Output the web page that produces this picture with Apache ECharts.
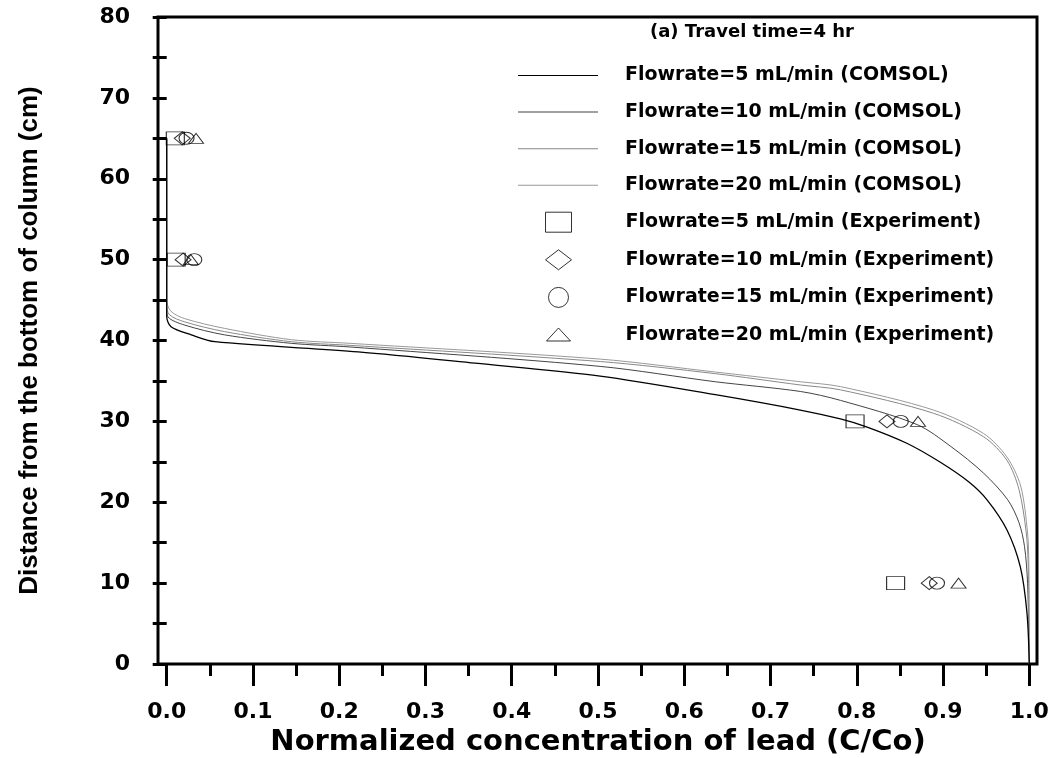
<!DOCTYPE html>
<html>
<head>
<meta charset="utf-8">
<title>Lead concentration profile</title>
<script src="https://cdn.jsdelivr.net/npm/echarts@6/dist/echarts.min.js"></script>
<style>
  html, body { margin: 0; padding: 0; background: #fff; }
  #chart { width: 1056px; height: 758px; }
</style>
</head>
<body>
<div id="chart"></div>
<script>
  // tick labels
  const xTickLabels = ['0.0', '0.1', '0.2', '0.3', '0.4', '0.5', '0.6', '0.7', '0.8', '0.9', '1.0']
  const yTickLabels = ['0', '10', '20', '30', '40', '50', '60', '70', '80']

  // COMSOL curves: concentration (C/Co) and distance (cm)
  const comsol5C = [0, 0, 0.005, 0.0285, 0.056, 0.222, 0.3575, 0.5025, 0.636, 0.7345, 0.781, 0.812, 0.858, 0.896, 0.93, 0.951, 0.974, 0.9896, 0.9973, 1.0]
  const comsol5D = [65, 43, 41.7, 40.7, 39.85, 38.6, 37.2, 35.6, 33.3, 31.4, 30.3, 29.3, 27.3, 25.0, 22.5, 20.3, 16.6, 12.0, 6.3, 0]

  const comsol10C = [0, 0, 0.0015, 0.021, 0.067, 0.1445, 0.2126, 0.5025, 0.636, 0.7345, 0.781, 0.87, 0.909, 0.947, 0.975, 0.988, 0.9945, 0.998, 1.0]
  const comsol10D = [65, 44, 42.9, 41.9, 40.7, 39.65, 39.2, 36.8, 34.9, 33.7, 32.6, 29.6, 26.9, 23.6, 20.3, 17.5, 14.5, 10, 0]

  const comsol15C = [0, 0, 0.003, 0.021, 0.067, 0.1445, 0.2126, 0.5025, 0.636, 0.7345, 0.781, 0.889, 0.947, 0.974, 0.988, 0.9965, 0.9988, 1.0]
  const comsol15D = [65, 44.5, 43.2, 42.3, 41.1, 39.85, 39.4, 37.4, 35.9, 34.5, 33.9, 31.0, 28.1, 25.2, 21.6, 16.2, 12, 0]

  const comsol20C = [0, 0, 0.005, 0.021, 0.067, 0.1445, 0.2126, 0.5025, 0.636, 0.7345, 0.781, 0.889, 0.947, 0.974, 0.99, 0.998, 0.9995, 1.0]
  const comsol20D = [65, 45, 43.6, 42.7, 41.5, 40.1, 39.65, 37.7, 36.1, 34.9, 34.3, 31.4, 28.5, 25.6, 22.0, 16.2, 12, 0]

  // experiment points
  const expDist = [65, 50, 30, 10]
  const exp5C = [0.010, 0.011, 0.798, 0.845]
  const exp10C = [0.018, 0.019, 0.835, 0.884]
  const exp15C = [0.023, 0.032, 0.851, 0.893]
  const exp20C = [0.034, 0.028, 0.871, 0.918]

  const pairs = (cs, ds) => cs.map((c, i) => [c, ds[i]])

  const boldDejavu = { fontFamily: 'DejaVu Sans', fontWeight: 'bold', color: '#000' }

  const chart = echarts.init(document.getElementById('chart'))

  const lineSeries = (name, cs, ds, color, width, z) => ({
    name: name,
    type: 'line',
    symbol: 'none',
    smooth: 0.3,
    z: z,
    data: pairs(cs, ds),
    lineStyle: { color: color, width: width },
    itemStyle: { color: color },
    animation: false
  })

  const expSeries = (name, cs, symbol, size) => ({
    name: name,
    type: 'scatter',
    symbol: symbol,
    symbolSize: size,
    z: 4,
    data: cs.map((c, i) => [c, expDist[i]]),
    itemStyle: { color: 'rgba(0,0,0,0)', borderColor: '#000', borderWidth: 1 },
    animation: false
  })

  chart.setOption({
    backgroundColor: '#fff',
    title: {
      text: '(a) Travel time=4 hr',
      left: 650,
      top: 23,
      padding: 0,
      textStyle: Object.assign({ fontSize: 18 }, boldDejavu)
    },
    legend: [
      {
        orient: 'vertical',
        left: 518,
        top: 65.5,
        icon: 'rect',
        itemWidth: 80,
        itemHeight: 1,
        itemGap: 16.6,
        padding: 0,
        selectedMode: false,
        symbolKeepAspect: false,
        textStyle: Object.assign({ fontSize: 19, lineHeight: 20, padding: [0, 0, 0, 22] }, boldDejavu),
        data: ['Flowrate=5 mL/min (COMSOL)', 'Flowrate=10 mL/min (COMSOL)', 'Flowrate=15 mL/min (COMSOL)', 'Flowrate=20 mL/min (COMSOL)']
      },
      {
        orient: 'vertical',
        left: 545,
        top: 211.7,
        itemWidth: 26,
        itemHeight: 20,
        itemGap: 16.6,
        padding: 0,
        selectedMode: false,
        symbolKeepAspect: false,
        itemStyle: { borderWidth: 1, borderColor: '#000', color: 'rgba(0,0,0,0)' },
        textStyle: Object.assign({ fontSize: 19, lineHeight: 20, padding: [0, 0, 0, 49] }, boldDejavu),
        data: [
          'Flowrate=5 mL/min (Experiment)',
          'Flowrate=10 mL/min (Experiment)',
          'Flowrate=15 mL/min (Experiment)',
          // flatter triangle, as in the original key
          { name: 'Flowrate=20 mL/min (Experiment)', icon: 'path://M0,0L0,0M26,20L26,20M13,3L25,16L1,16Z' }
        ]
      }
    ],
    grid: [
      // data area
      { left: 166.7, right: 26.7, top: 17, bottom: 94, outerBoundsMode: 'none' },
      // frame box
      { left: 158, right: 19, top: 17, bottom: 94, outerBoundsMode: 'none', show: true, borderColor: '#000', borderWidth: 3, backgroundColor: 'rgba(0,0,0,0)' }
    ],
    xAxis: [
      {
        type: 'value',
        gridIndex: 0,
        min: 0,
        max: 1,
        interval: 0.1,
        name: 'Normalized concentration of lead (C/Co)',
        nameLocation: 'middle',
        nameGap: 59,
        nameTextStyle: Object.assign({ fontSize: 29 }, boldDejavu),
        axisLine: { show: false },
        axisTick: { show: true, inside: false, length: 22, lineStyle: { color: '#000', width: 3 } },
        minorTick: { show: true, splitNumber: 2, length: 12, lineStyle: { color: '#000', width: 3 } },
        splitLine: { show: false },
        axisLabel: Object.assign({
          fontSize: 22,
          margin: 37,
          formatter: (v) => xTickLabels[Math.round(v * 10)]
        }, boldDejavu)
      },
      { type: 'value', gridIndex: 1, min: 0, max: 1, show: false }
    ],
    yAxis: [
      {
        type: 'value',
        gridIndex: 0,
        min: 0,
        max: 80,
        interval: 10,
        offset: 8.7,
        name: 'Distance from the bottom of column (cm)',
        nameLocation: 'middle',
        nameGap: 115,
        nameTextStyle: { fontFamily: 'Liberation Sans', fontWeight: 'bold', fontSize: 26, color: '#000' },
        axisLine: { show: false },
        axisTick: { show: true, inside: false, length: 14, lineStyle: { color: '#000', width: 3 } },
        minorTick: { show: true, splitNumber: 2, length: 14, lineStyle: { color: '#000', width: 3 } },
        splitLine: { show: false },
        axisLabel: Object.assign({
          fontSize: 22,
          margin: 28,
          formatter: (v) => yTickLabels[Math.round(v / 10)]
        }, boldDejavu)
      },
      { type: 'value', gridIndex: 1, min: 0, max: 80, show: false }
    ],
    series: [
      lineSeries('Flowrate=5 mL/min (COMSOL)', comsol5C, comsol5D, '#000', 1.3, 3),
      lineSeries('Flowrate=10 mL/min (COMSOL)', comsol10C, comsol10D, '#444', 1, 2),
      lineSeries('Flowrate=15 mL/min (COMSOL)', comsol15C, comsol15D, '#888', 1, 2),
      lineSeries('Flowrate=20 mL/min (COMSOL)', comsol20C, comsol20D, '#999', 1, 2),
      expSeries('Flowrate=5 mL/min (Experiment)', exp5C, 'rect', [18, 13]),
      expSeries('Flowrate=10 mL/min (Experiment)', exp10C, 'diamond', [16, 13]),
      expSeries('Flowrate=15 mL/min (Experiment)', exp15C, 'circle', [15, 12]),
      expSeries('Flowrate=20 mL/min (Experiment)', exp20C, 'triangle', [15, 10])
    ]
  })
</script>
</body>
</html>
